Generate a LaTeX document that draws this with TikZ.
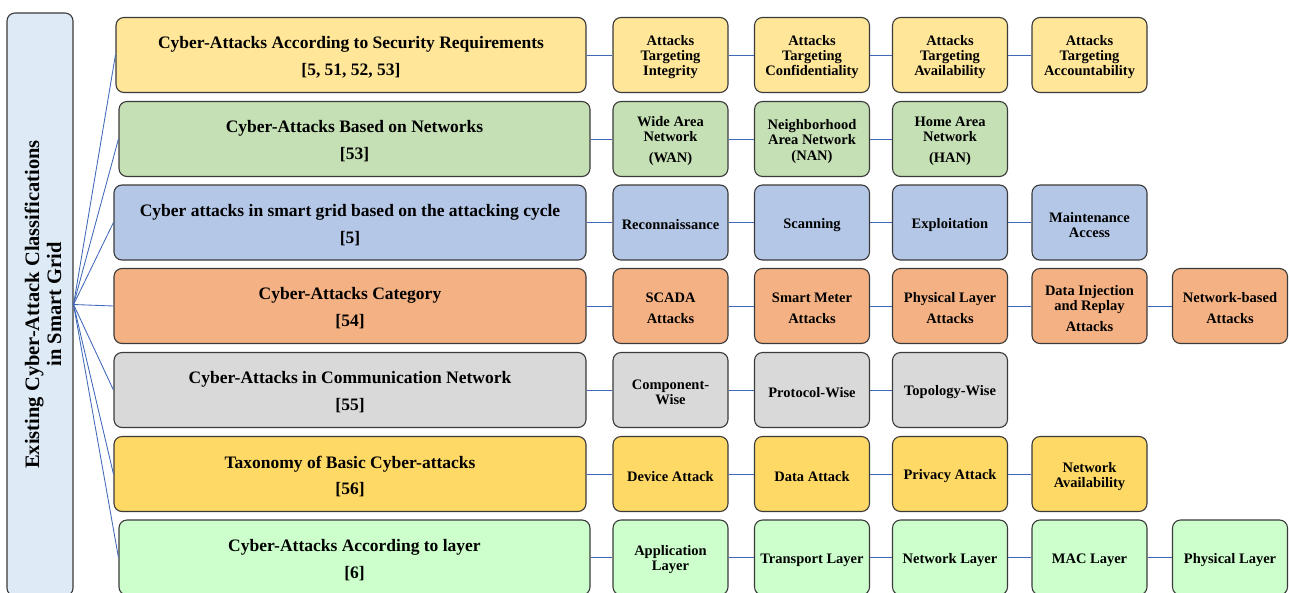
\documentclass[tikz,border=0pt]{standalone}
\usepackage{fontspec}
\setmainfont{Liberation Serif}

\definecolor{rootfill}{HTML}{DEEBF7}
\definecolor{secfill}{HTML}{FFE699}
\definecolor{netfill}{HTML}{C5E0B4}
\definecolor{cycfill}{HTML}{B4C7E7}
\definecolor{catfill}{HTML}{F4B183}
\definecolor{comfill}{HTML}{D9D9D9}
\definecolor{taxfill}{HTML}{FFD966}
\definecolor{layfill}{HTML}{CCFFCC}
\definecolor{boxline}{HTML}{3A3A3A}
\definecolor{linkblue}{HTML}{4068B8}

\tikzset{
  box/.style={draw=boxline, line width=1.1pt, rounded corners=8pt, inner sep=0pt},
  fambox/.style={box, minimum height=75pt},
  famtext/.style={align=center, inner sep=0pt, font=\fontsize{17.5}{27}\selectfont\bfseries},
  leafbox/.style={box, minimum width=115pt, minimum height=75pt},
  leaftext/.style={align=center, inner sep=0pt, font=\fontsize{14.5}{15}\selectfont\bfseries},
  rootbox/.style={box, fill=rootfill, minimum width=66pt, minimum height=583pt},
  link/.style={draw=linkblue, line width=0.85pt},
}

% a family box: fill, width, name, position, text
\newcommand\famnode[5]{%
  \node[fambox, fill=#1, minimum width=#2pt] (#3) at #4 {};
  \node[famtext] (#3t) at ([yshift=-2.5pt]#3.center) {#5};}
% a leaf box: fill, name, position, text
\newcommand\leafnode[4]{%
  \node[leafbox, fill=#1] (#2) at #3 {};
  \node[leaftext] (#2t) at ([yshift=-2.5pt]#2.center) {#4};}

\begin{document}
\begin{tikzpicture}[x=1pt, y=-1pt]
  \useasboundingbox (0,0) rectangle (1289,592);
  \clip (0,0) rectangle (1289,592);

  % root of the classification
  \node[rootbox] (root) at (40,304.5) {};
  \node[rotate=90, align=center, font=\fontsize{20.5}{22}\selectfont\bfseries] (rootlabel) at ([xshift=3pt]root.center)
    {Existing Cyber-Attack Classifications\\in Smart Grid};

  % classification families
  \famnode{secfill}{470}{m1}{(351,55)}{Cyber-Attacks According to Security Requirements\\{}[5, 51, 52, 53]}
  \famnode{netfill}{471}{m2}{(354.5,139)}{Cyber-Attacks Based on Networks\\{}[53]}
  \famnode{cycfill}{472}{m3}{(350,222.5)}{Cyber attacks in smart grid based on the attacking cycle\\{}[5]}
  \famnode{catfill}{472}{m4}{(350,306)}{Cyber-Attacks Category\\{}[54]}
  \famnode{comfill}{472}{m5}{(350,390)}{Cyber-Attacks in Communication Network\\{}[55]}
  \famnode{taxfill}{472}{m6}{(350,474)}{Taxonomy of Basic Cyber-attacks\\{}[56]}
  \famnode{layfill}{471}{m7}{(354.5,557.5)}{Cyber-Attacks According to layer\\{}[6]}

  % security requirements
  \leafnode{secfill}{a1}{(670.5,55)}{Attacks\\Targeting\\Integrity}
  \leafnode{secfill}{a2}{(812,55)}{Attacks\\Targeting\\Confidentiality}
  \leafnode{secfill}{a3}{(950,55)}{Attacks\\Targeting\\Availability}
  \leafnode{secfill}{a4}{(1089.5,55)}{Attacks\\Targeting\\Accountability}

  % networks
  \leafnode{netfill}{b1}{(670.5,139)}{Wide Area\\Network\\[6pt](WAN)}
  \leafnode{netfill}{b2}{(812,139)}{Neighborhood\\Area Network\\[1pt](NAN)}
  \leafnode{netfill}{b3}{(950,139)}{Home Area\\Network\\[6pt](HAN)}

  % attacking cycle
  \leafnode{cycfill}{c1}{(670.5,222.5)}{Reconnaissance}
  \leafnode{cycfill}{c2}{(812,222.5)}{Scanning}
  \leafnode{cycfill}{c3}{(950,222.5)}{Exploitation}
  \leafnode{cycfill}{c4}{(1089.5,222.5)}{Maintenance\\Access}

  % categories
  \leafnode{catfill}{d1}{(670.5,306)}{SCADA\\[6pt]Attacks}
  \leafnode{catfill}{d2}{(812,306)}{Smart Meter\\[6pt]Attacks}
  \leafnode{catfill}{d3}{(950,306)}{Physical Layer\\[6pt]Attacks}
  \leafnode{catfill}{d4}{(1089.5,306)}{Data Injection\\and Replay\\[6pt]Attacks}
  \leafnode{catfill}{d5}{(1230,306)}{Network-based\\[6pt]Attacks}

  % communication network
  \leafnode{comfill}{e1}{(670.5,390)}{Component-\\Wise}
  \leafnode{comfill}{e2}{(812,390)}{Protocol-Wise}
  \leafnode{comfill}{e3}{(950,390)}{Topology-Wise}

  % basic taxonomy
  \leafnode{taxfill}{f1}{(670.5,474)}{Device Attack}
  \leafnode{taxfill}{f2}{(812,474)}{Data Attack}
  \leafnode{taxfill}{f3}{(950,474)}{Privacy Attack}
  \leafnode{taxfill}{f4}{(1089.5,474)}{Network\\Availability}

  % layers
  \leafnode{layfill}{g1}{(670.5,557.5)}{Application\\Layer}
  \leafnode{layfill}{g2}{(812,557.5)}{Transport Layer}
  \leafnode{layfill}{g3}{(950,557.5)}{Network Layer}
  \leafnode{layfill}{g4}{(1089.5,557.5)}{MAC Layer}
  \leafnode{layfill}{g5}{(1230,557.5)}{Physical Layer}

  % fan from the root
  \foreach \m in {m1,m2,m3,m4,m5,m6,m7}
    \draw[link] (root.east) -- (\m.west);

  % chains along each row
  \draw[link] (m1) -- (a1) -- (a2) -- (a3) -- (a4);
  \draw[link] (m2) -- (b1) -- (b2) -- (b3);
  \draw[link] (m3) -- (c1) -- (c2) -- (c3) -- (c4);
  \draw[link] (m4) -- (d1) -- (d2) -- (d3) -- (d4) -- (d5);
  \draw[link] (m5) -- (e1) -- (e2) -- (e3);
  \draw[link] (m6) -- (f1) -- (f2) -- (f3) -- (f4);
  \draw[link] (m7) -- (g1) -- (g2) -- (g3) -- (g4) -- (g5);
\end{tikzpicture}
\end{document}
